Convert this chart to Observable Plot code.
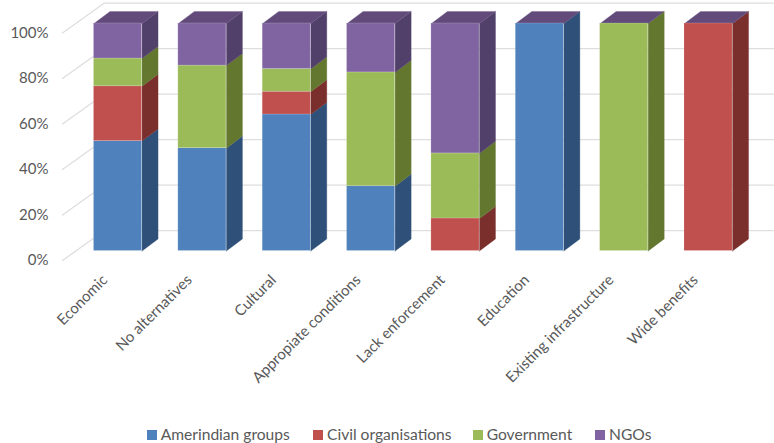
<!DOCTYPE html>
<html>
<head>
<meta charset="utf-8">
<script src="https://cdn.jsdelivr.net/npm/d3@7"></script>
<script src="https://cdn.jsdelivr.net/npm/@observablehq/plot@0.6"></script>
<style>
html,body{margin:0;padding:0;background:#fff}
#legend{height:23px;display:flex;align-items:center;font:15.6px Lato,sans-serif;color:#595959;position:relative}
#legend span{position:absolute;white-space:nowrap;line-height:23px;top:3px}
#legend i{position:absolute;width:10px;height:10px;top:9.5px}
</style>
</head>
<body>
<div id="chart"></div>
<div id="legend"></div>
<script>
const categories = ["Economic","No alternatives","Cultural","Appropiate conditions","Lack enforcement","Education","Existing infrastructure","Wide benefits"];
const seriesNames = ["Amerindian groups","Civil organisations","Government","NGOs"];
const amerindian = [48.3,45.2,60,28.5,0,100,0,0];
const civil      = [24.1,0,10,0,14.3,0,0,100];
const government = [12.2,36.3,10,50,28.6,0,100,0];
const ngos       = [15.4,18.5,20,21.5,57.1,0,0,0];
const seriesValues = [amerindian,civil,government,ngos];
const frontColors = ["#4F81BD","#C0504D","#9BBB59","#8064A2"];
const sideColors  = ["#2F5078","#7A2F2D","#64772F","#51406A"];
const topColor = "#624B7B";
const yTicks = [0,20,40,60,80,100];

const barHalf = 0.285;      // half of a bar in category units
const depthX = 0.19, depthY = 5.3;
const wallFrontX = -0.658, wallBackX = -0.161, wallEndX = 7.782;
const wallFrontY = -4.18, wallBackY = 9;

const fronts = [], polys = [], grid = [];
categories.forEach((c,i) => {
  let acc = 0;
  seriesValues.forEach((vals,s) => {
    const v = vals[i], lo = acc, hi = acc + v;
    acc = hi;
    if (v <= 0) return;
    fronts.push({x1:i-barHalf,x2:i+barHalf,y1:lo,y2:hi,fill:frontColors[s]});
    const r = i+barHalf;
    const id = `side-${i}-${s}`;
    [[r,lo],[r+depthX,lo+depthY],[r+depthX,hi+depthY],[r,hi],[r,lo]]
      .forEach(([x,y]) => polys.push({id,x,y,fill:sideColors[s]}));
  });
  const l = i-barHalf, r = i+barHalf, id = `top-${i}`;
  [[l,acc],[r,acc],[r+depthX,acc+depthY],[l+depthX,acc+depthY],[l,acc]]
    .forEach(([x,y]) => polys.push({id,x,y,fill:topColor}));
});
yTicks.forEach(t => {
  grid.push({id:t,x:wallFrontX,y:t+wallFrontY});
  grid.push({id:t,x:wallBackX,y:t+wallBackY});
  grid.push({id:t,x:wallEndX,y:t+wallBackY});
});

const plot = Plot.plot({
  width:774, height:420,
  marginLeft:55, marginRight:0, marginTop:0, marginBottom:150,
  style:{fontFamily:"Lato, sans-serif",fontSize:"15px",color:"#595959",background:"#fff"},
  x:{domain:[-0.741,7.782]},
  y:{domain:[-8.57,110.11]},
  color:{type:"identity"},
  marks:[
    Plot.line(grid,{x:"x",y:"y",z:"id",stroke:"#DEDEDE",strokeWidth:1.3}),
    Plot.axisY({ticks:yTicks,tickSize:0,tickPadding:7,dy:9.5,label:null,tickFormat:d=>d+"%",fill:"#595959",fontSize:15}),
    Plot.axisX({ticks:d3.range(categories.length),tickFormat:i=>categories[i],tickRotate:-45,tickSize:0,tickPadding:7,label:null,fill:"#595959",fontSize:15,dx:-13}),
    Plot.line(polys,{x:"x",y:"y",z:"id",fill:"fill",stroke:"fill",strokeWidth:0.3}),
    Plot.rect(fronts,{x1:"x1",x2:"x2",y1:"y1",y2:"y2",fill:"fill",stroke:"#fff",strokeOpacity:0.2,strokeWidth:0.8})
  ]
});
document.getElementById("chart").appendChild(plot);

const legend = document.getElementById("legend");
const swatchX = [146.7,313.3,472.7,595.3];
const textX = [160.7,327,486.7,609];
seriesNames.forEach((n,s) => {
  const sw = document.createElement("i");
  sw.style.left = swatchX[s]+"px";
  sw.style.background = frontColors[s];
  const t = document.createElement("span");
  t.style.left = textX[s]+"px";
  t.textContent = n;
  legend.append(sw,t);
});
</script>
</body>
</html>
